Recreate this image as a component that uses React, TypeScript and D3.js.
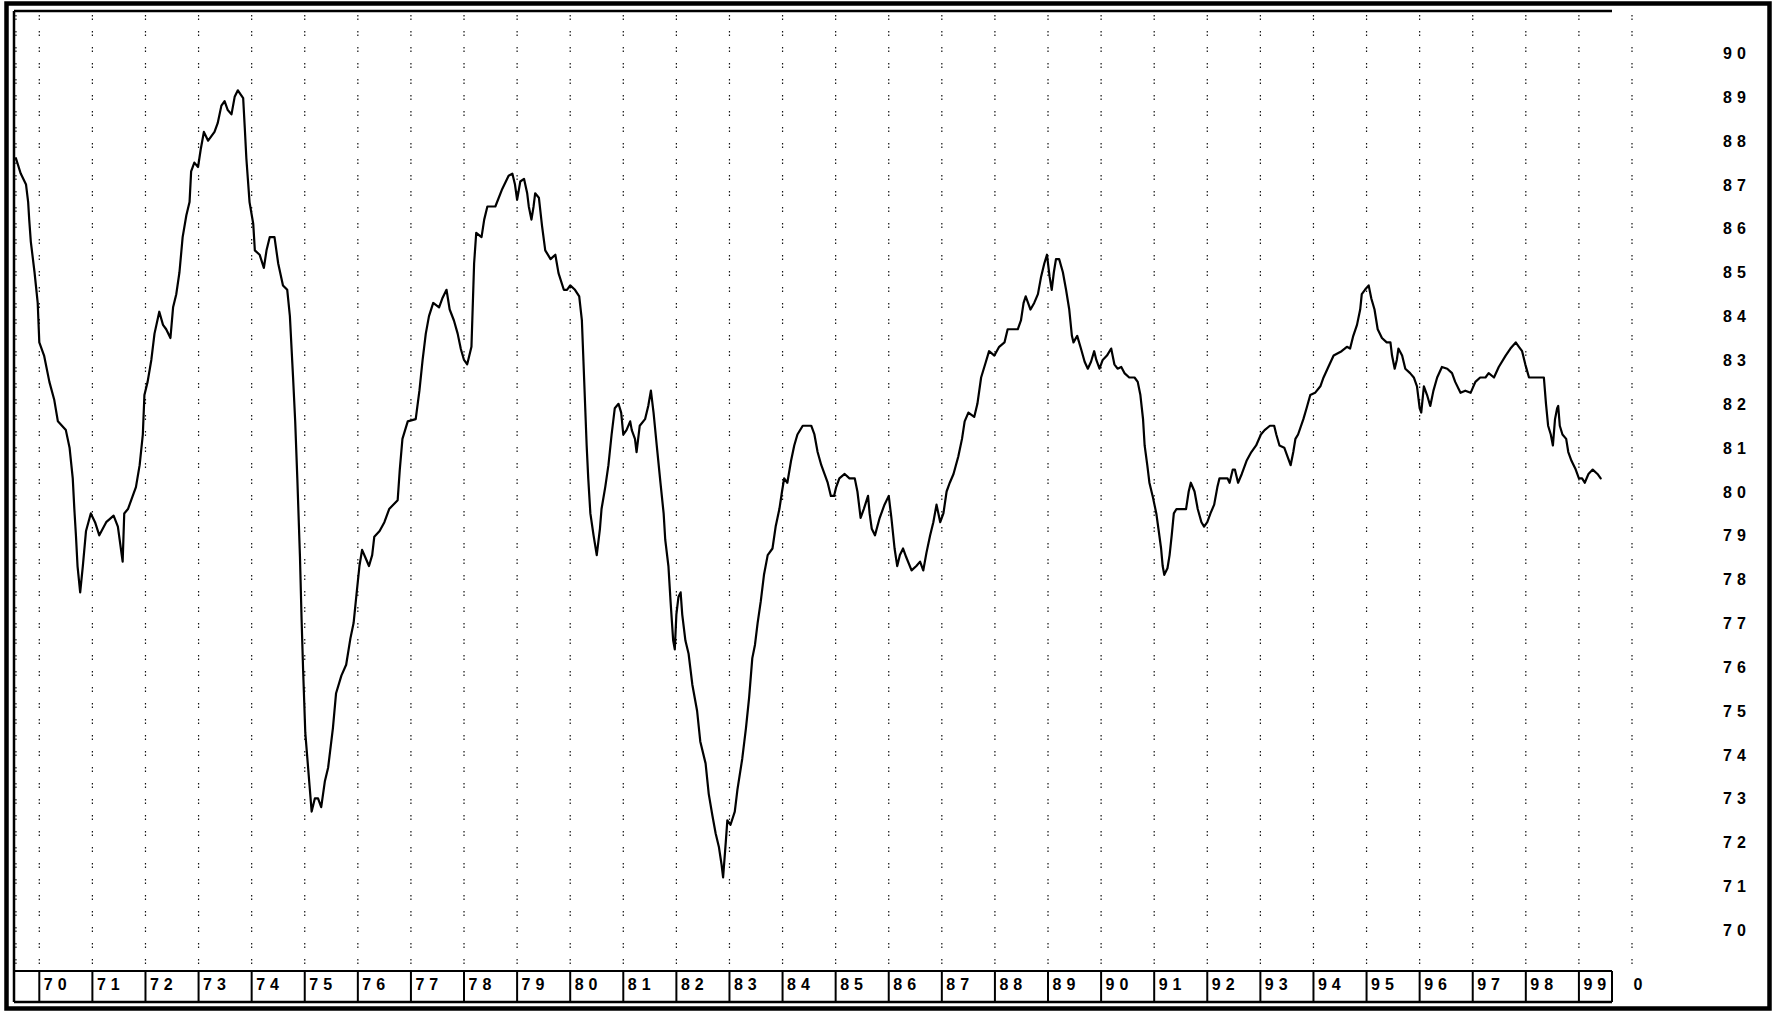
import React from "react";
import * as d3 from "d3";

// ---- tick labels ----
const yearStarts: number[] = d3.range(1970, 2000);
const yearLabels: string[] = [
  "70", "71", "72", "73", "74", "75", "76", "77", "78", "79",
  "80", "81", "82", "83", "84", "85", "86", "87", "88", "89",
  "90", "91", "92", "93", "94", "95", "96", "97", "98", "99",
];
const endYear = 2000;
const endLabel = "0";
const yTicks: number[] = [70, 71, 72, 73, 74, 75, 76, 77, 78, 79, 80, 81, 82, 83, 84, 85, 86, 87, 88, 89, 90];

// ---- series: [decimal year, value] ----
const data1969to1975: [number, number][] = [
  [1969.56, 87.6], [1969.65, 87.25], [1969.75, 87.0], [1969.79, 86.6], [1969.81, 86.2], [1969.84, 85.7],
  [1969.91, 85.0], [1969.97, 84.3], [1970.0, 83.4], [1970.09, 83.1], [1970.19, 82.5], [1970.28, 82.1],
  [1970.35, 81.6], [1970.5, 81.4], [1970.57, 81.0], [1970.63, 80.3], [1970.66, 79.6], [1970.69, 79.0],
  [1970.72, 78.3], [1970.77, 77.7], [1970.82, 78.3], [1970.88, 79.1], [1970.97, 79.5], [1971.05, 79.3],
  [1971.13, 79.0], [1971.26, 79.3], [1971.4, 79.45], [1971.48, 79.2], [1971.57, 78.4], [1971.6, 79.5],
  [1971.67, 79.6], [1971.76, 79.9], [1971.82, 80.1], [1971.89, 80.6], [1971.95, 81.3], [1971.98, 82.2],
  [1972.04, 82.5], [1972.11, 83.0], [1972.17, 83.6], [1972.26, 84.1], [1972.33, 83.8], [1972.39, 83.7],
  [1972.47, 83.5], [1972.52, 84.2], [1972.58, 84.5], [1972.64, 85.0], [1972.7, 85.8], [1972.77, 86.3],
  [1972.83, 86.6], [1972.86, 87.3], [1972.92, 87.5], [1972.99, 87.4], [1973.04, 87.8], [1973.1, 88.2],
  [1973.18, 88.0], [1973.3, 88.2], [1973.36, 88.4], [1973.43, 88.8], [1973.49, 88.9], [1973.55, 88.7],
  [1973.62, 88.6], [1973.68, 89.0], [1973.74, 89.15], [1973.84, 88.97], [1973.87, 88.3], [1973.9, 87.6],
  [1973.93, 87.1], [1973.96, 86.6], [1974.03, 86.1], [1974.06, 85.5], [1974.15, 85.4], [1974.23, 85.1],
  [1974.28, 85.5], [1974.34, 85.8], [1974.43, 85.8], [1974.5, 85.2], [1974.59, 84.7], [1974.67, 84.6],
  [1974.72, 84.0], [1974.78, 82.6], [1974.82, 81.6], [1974.86, 80.3], [1974.91, 78.5], [1974.94, 77.1],
  [1974.97, 75.9], [1975.01, 74.5], [1975.09, 73.3], [1975.13, 72.7], [1975.19, 73.0], [1975.25, 73.0],
  [1975.31, 72.8], [1975.38, 73.4], [1975.44, 73.7],
];

const data1975to1981: [number, number][] = [
  [1975.53, 74.6], [1975.59, 75.4], [1975.69, 75.8], [1975.78, 76.05], [1975.86, 76.65], [1975.92, 77.0],
  [1975.97, 77.6], [1976.03, 78.3], [1976.08, 78.67], [1976.14, 78.5], [1976.21, 78.3], [1976.27, 78.55],
  [1976.31, 78.97], [1976.41, 79.1], [1976.5, 79.3], [1976.59, 79.6], [1976.75, 79.8], [1976.79, 80.5],
  [1976.84, 81.2], [1976.94, 81.6], [1977.09, 81.65], [1977.16, 82.3], [1977.22, 83.0], [1977.28, 83.6],
  [1977.34, 84.0], [1977.42, 84.3], [1977.53, 84.2], [1977.59, 84.4], [1977.67, 84.6], [1977.73, 84.15],
  [1977.81, 83.9], [1977.88, 83.6], [1977.94, 83.25], [1978.0, 83.0], [1978.06, 82.9], [1978.14, 83.3],
  [1978.19, 85.2], [1978.23, 85.9], [1978.33, 85.8], [1978.38, 86.2], [1978.44, 86.5], [1978.59, 86.5],
  [1978.72, 86.9], [1978.84, 87.2], [1978.91, 87.25], [1978.96, 87.0], [1979.0, 86.65], [1979.06, 87.07],
  [1979.13, 87.13], [1979.19, 86.8], [1979.22, 86.5], [1979.27, 86.2], [1979.31, 86.5], [1979.34, 86.8],
  [1979.41, 86.7], [1979.47, 86.05], [1979.53, 85.5], [1979.63, 85.3], [1979.72, 85.4], [1979.78, 84.98],
  [1979.88, 84.6], [1979.94, 84.6], [1980.0, 84.7], [1980.09, 84.6], [1980.17, 84.45], [1980.22, 83.9],
  [1980.25, 82.96], [1980.28, 82.0], [1980.31, 81.05], [1980.34, 80.3], [1980.38, 79.5], [1980.44, 79.0],
  [1980.5, 78.55], [1980.56, 79.15], [1980.59, 79.6], [1980.66, 80.1], [1980.72, 80.6], [1980.78, 81.3],
  [1980.84, 81.9], [1980.91, 82.0], [1980.96, 81.8], [1981.0, 81.3], [1981.06, 81.4], [1981.13, 81.6],
  [1981.16, 81.4], [1981.22, 81.2], [1981.25, 80.9], [1981.31, 81.5], [1981.41, 81.65], [1981.47, 81.95],
  [1981.52, 82.3],
];

const data1981to1987: [number, number][] = [
  [1981.57, 81.8], [1981.63, 81.05], [1981.7, 80.2], [1981.76, 79.5], [1981.79, 78.9], [1981.85, 78.3],
  [1981.89, 77.5], [1981.94, 76.6], [1981.97, 76.4], [1982.0, 77.2], [1982.04, 77.6], [1982.08, 77.7],
  [1982.11, 77.2], [1982.17, 76.6], [1982.23, 76.3], [1982.3, 75.6], [1982.39, 75.0], [1982.45, 74.3],
  [1982.55, 73.8], [1982.61, 73.1], [1982.68, 72.6], [1982.74, 72.2], [1982.8, 71.9], [1982.85, 71.5],
  [1982.88, 71.2], [1982.93, 72.0], [1982.96, 72.5], [1983.02, 72.4], [1983.1, 72.7], [1983.15, 73.2],
  [1983.24, 73.9], [1983.31, 74.6], [1983.37, 75.3], [1983.43, 76.2], [1983.48, 76.5], [1983.53, 77.0],
  [1983.59, 77.5], [1983.65, 78.1], [1983.72, 78.55], [1983.81, 78.7], [1983.87, 79.2], [1983.94, 79.6],
  [1983.99, 80.0], [1984.03, 80.3], [1984.09, 80.2], [1984.16, 80.7], [1984.22, 81.05], [1984.28, 81.3],
  [1984.38, 81.5], [1984.47, 81.5], [1984.54, 81.5], [1984.6, 81.3], [1984.66, 80.9], [1984.73, 80.6],
  [1984.79, 80.4], [1984.85, 80.2], [1984.91, 79.9], [1984.97, 79.9], [1985.01, 80.1], [1985.07, 80.3],
  [1985.17, 80.4], [1985.26, 80.3], [1985.36, 80.3], [1985.41, 80.0], [1985.47, 79.4], [1985.53, 79.6],
  [1985.61, 79.9], [1985.64, 79.5], [1985.68, 79.15], [1985.74, 79.0], [1985.83, 79.4], [1985.92, 79.7],
  [1986.0, 79.9], [1986.05, 79.4], [1986.11, 78.7], [1986.16, 78.3], [1986.21, 78.55], [1986.27, 78.7],
  [1986.33, 78.5], [1986.43, 78.2], [1986.52, 78.3], [1986.59, 78.4], [1986.65, 78.2], [1986.71, 78.6],
  [1986.78, 79.0], [1986.84, 79.3], [1986.9, 79.7], [1986.97, 79.3], [1987.03, 79.5], [1987.09, 80.0],
  [1987.15, 80.2], [1987.22, 80.4], [1987.31, 80.8], [1987.38, 81.2], [1987.43, 81.6], [1987.5, 81.8],
  [1987.61, 81.7], [1987.67, 82.0],
];

const data1987to1993: [number, number][] = [
  [1987.74, 82.6], [1987.83, 82.96], [1987.89, 83.2], [1987.99, 83.1], [1988.08, 83.3], [1988.18, 83.4],
  [1988.24, 83.7], [1988.43, 83.7], [1988.49, 83.9], [1988.54, 84.3], [1988.58, 84.45], [1988.67, 84.15],
  [1988.74, 84.3], [1988.81, 84.5], [1988.87, 84.9], [1988.93, 85.2], [1988.98, 85.4], [1989.03, 84.9],
  [1989.07, 84.6], [1989.11, 85.0], [1989.15, 85.3], [1989.21, 85.3], [1989.28, 85.0], [1989.34, 84.6],
  [1989.4, 84.15], [1989.45, 83.55], [1989.48, 83.4], [1989.55, 83.55], [1989.62, 83.26], [1989.69, 82.96],
  [1989.75, 82.8], [1989.81, 82.96], [1989.87, 83.2], [1989.91, 83.0], [1989.97, 82.8], [1990.03, 83.0],
  [1990.11, 83.1], [1990.19, 83.26], [1990.25, 82.9], [1990.31, 82.8], [1990.38, 82.84], [1990.44, 82.7],
  [1990.53, 82.6], [1990.63, 82.6], [1990.69, 82.5], [1990.74, 82.2], [1990.79, 81.65], [1990.82, 81.05],
  [1990.87, 80.6], [1990.91, 80.2], [1990.97, 79.9], [1991.04, 79.5], [1991.08, 79.15], [1991.13, 78.7],
  [1991.16, 78.3], [1991.19, 78.1], [1991.25, 78.25], [1991.29, 78.55], [1991.33, 79.0], [1991.37, 79.5],
  [1991.42, 79.6], [1991.51, 79.6], [1991.6, 79.6], [1991.65, 80.0], [1991.69, 80.2], [1991.76, 80.0],
  [1991.82, 79.6], [1991.89, 79.3], [1991.94, 79.2], [1992.0, 79.3], [1992.06, 79.5], [1992.13, 79.7],
  [1992.19, 80.1], [1992.23, 80.3], [1992.3, 80.3], [1992.38, 80.3], [1992.42, 80.2], [1992.48, 80.5],
  [1992.52, 80.5], [1992.58, 80.2], [1992.65, 80.4], [1992.74, 80.7], [1992.83, 80.9], [1992.92, 81.05],
  [1993.01, 81.3], [1993.08, 81.4], [1993.18, 81.5], [1993.26, 81.5], [1993.3, 81.3], [1993.36, 81.05],
  [1993.45, 81.0], [1993.51, 80.8], [1993.57, 80.6], [1993.62, 80.9], [1993.66, 81.2], [1993.71, 81.3],
];

const data1993to1999: [number, number][] = [
  [1993.81, 81.65], [1993.87, 81.9], [1993.94, 82.2], [1994.03, 82.25], [1994.13, 82.4], [1994.19, 82.6],
  [1994.28, 82.84], [1994.38, 83.1], [1994.53, 83.2], [1994.63, 83.3], [1994.69, 83.26], [1994.75, 83.55],
  [1994.82, 83.8], [1994.88, 84.15], [1994.91, 84.5], [1994.97, 84.6], [1995.04, 84.7], [1995.09, 84.4],
  [1995.15, 84.15], [1995.21, 83.7], [1995.29, 83.5], [1995.38, 83.4], [1995.45, 83.4], [1995.48, 83.1],
  [1995.53, 82.8], [1995.57, 83.0], [1995.6, 83.26], [1995.67, 83.1], [1995.73, 82.8], [1995.82, 82.7],
  [1995.89, 82.6], [1995.95, 82.4], [1996.0, 81.9], [1996.03, 81.8], [1996.08, 82.4], [1996.14, 82.2],
  [1996.2, 81.95], [1996.26, 82.3], [1996.33, 82.6], [1996.42, 82.84], [1996.52, 82.8], [1996.61, 82.7],
  [1996.67, 82.5], [1996.77, 82.25], [1996.86, 82.3], [1996.96, 82.25], [1997.05, 82.5], [1997.14, 82.6],
  [1997.24, 82.6], [1997.3, 82.7], [1997.4, 82.6], [1997.49, 82.84], [1997.62, 83.1], [1997.71, 83.26],
  [1997.81, 83.4], [1997.87, 83.3], [1997.93, 83.2], [1997.99, 82.9], [1998.06, 82.6], [1998.12, 82.6],
  [1998.21, 82.6], [1998.34, 82.6], [1998.38, 82.0], [1998.42, 81.5], [1998.47, 81.3], [1998.51, 81.05],
  [1998.55, 81.65], [1998.59, 81.9], [1998.61, 81.95], [1998.64, 81.5], [1998.69, 81.3], [1998.76, 81.2],
  [1998.8, 80.9], [1998.86, 80.7], [1998.94, 80.5], [1999.0, 80.3], [1999.06, 80.3], [1999.11, 80.2],
  [1999.18, 80.4], [1999.26, 80.5], [1999.35, 80.4], [1999.41, 80.3],
];

const series: [number, number][] = [
  ...data1969to1975,
  ...data1975to1981,
  ...data1981to1987,
  ...data1987to1993,
  ...data1993to1999,
];

export default function App() {
  const W = 1776;
  const H = 1016;

  const x = d3.scaleLinear().domain([1970, 2000]).range([39.3, 1632]);
  const y = d3.scaleLinear().domain([70, 90]).range([930, 53]);

  const plotLeft = 14;
  const plotTop = 11;
  const plotRight = 1612;
  const boxTop = 971;
  const boxBottom = 1002;

  const line = d3
    .line<[number, number]>()
    .x((d) => x(d[0]))
    .y((d) => y(d[1]));

  const gridYears = [...yearStarts, endYear];
  const firstX = x(series[0][0]);
  const font = "'Liberation Sans', Arial, sans-serif";

  return (
    <svg
      width={W}
      height={H}
      viewBox={`0 0 ${W} ${H}`}
      style={{ position: "fixed", left: 0, top: 0, background: "#fff" }}
    >
      <rect x={0} y={0} width={W} height={H} fill="#fff" />

      {/* dotted vertical grid */}
      {[firstX, ...gridYears.map((g) => x(g))].map((gx, i) => (
        <line
          key={"g" + i}
          x1={gx}
          x2={gx}
          y1={plotTop + 4}
          y2={boxTop}
          stroke="#111"
          strokeWidth={1.2}
          strokeDasharray="1.5,2,1.5,11"
        />
      ))}

      {/* outer frame */}
      <rect
        x={6.5}
        y={3.5}
        width={1763}
        height={1005}
        fill="none"
        stroke="#000"
        strokeWidth={4.5}
      />
      {/* inner frame lines */}
      <line x1={plotLeft} x2={plotLeft} y1={plotTop} y2={boxBottom} stroke="#000" strokeWidth={2.5} />
      <line x1={plotLeft} x2={plotRight} y1={plotTop} y2={plotTop} stroke="#000" strokeWidth={2.5} />

      {/* x-axis year boxes */}
      <line x1={plotLeft} x2={plotRight} y1={boxTop} y2={boxTop} stroke="#000" strokeWidth={2} />
      <line x1={plotLeft} x2={plotRight} y1={boxBottom} y2={boxBottom} stroke="#000" strokeWidth={2.5} />
      {[...yearStarts.map((g) => x(g)), plotRight].map((bx, i) => (
        <line key={"b" + i} x1={bx} x2={bx} y1={boxTop} y2={boxBottom} stroke="#000" strokeWidth={2} />
      ))}
      {yearStarts.map((g, i) => (
        <text
          key={"xl" + i}
          x={x(g) + 4.5}
          y={990}
          fontFamily={font}
          fontSize={16}
          fontWeight="bold"
          letterSpacing={5}
          fill="#000"
        >
          {yearLabels[i]}
        </text>
      ))}
      <text x={x(endYear) + 1.5} y={990} fontFamily={font} fontSize={16} fontWeight="bold" fill="#000">
        {endLabel}
      </text>

      {/* y-axis labels on right */}
      {yTicks.map((t) => (
        <text
          key={"yl" + t}
          x={1723}
          y={y(t) + 6}
          fontFamily={font}
          fontSize={16}
          fontWeight="bold"
          letterSpacing={5}
          fill="#000"
        >
          {String(t)}
        </text>
      ))}

      {/* data line */}
      <path
        d={line(series) || ""}
        fill="none"
        stroke="#000"
        strokeWidth={2.2}
        strokeLinejoin="round"
        strokeLinecap="round"
      />
    </svg>
  );
}
